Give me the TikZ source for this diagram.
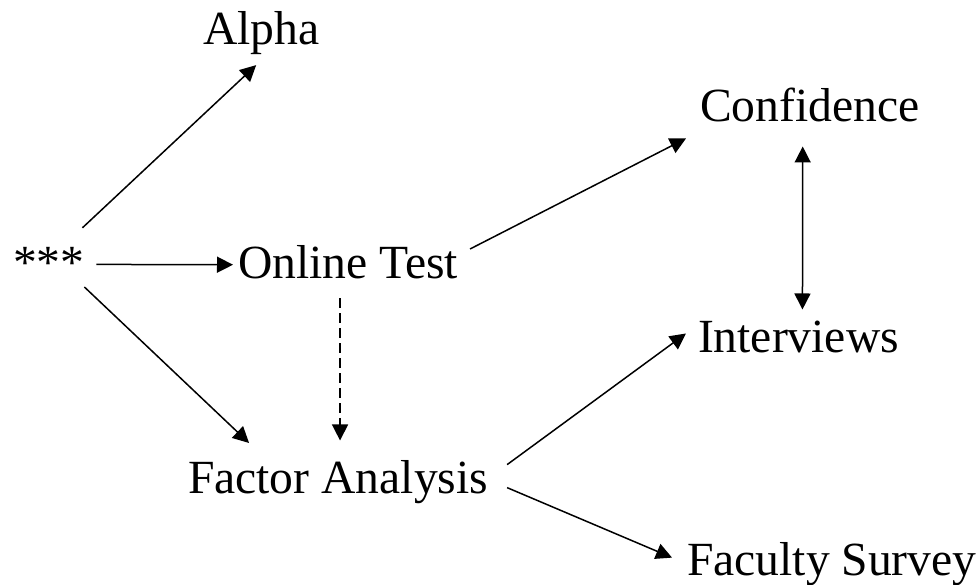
\documentclass[tikz,border=0pt]{standalone}
\usepackage{fontspec}
\setmainfont{Liberation Serif}
\usetikzlibrary{arrows.meta,calc}

\tikzset{
  box/.style={inner sep=0pt, outer sep=0pt, anchor=base west,
    font=\fontsize{23.8}{28}\selectfont},
  arr/.style={-{Triangle[length=8pt,width=8pt]}, line width=0.75pt},
  dasharr/.style={arr, dash pattern=on 5pt off 2.5pt},
  dblarr/.style={{Triangle[length=8pt,width=8pt]}-{Triangle[length=8pt,width=8pt]},
    line width=0.75pt}
}

\begin{document}
\begin{tikzpicture}[x=0.5pt,y=-0.5pt]
  \useasboundingbox (0,0) rectangle (979,584);
  % the words
  \node[box] (star) at (13,278) {***};
  \node[box] (alpha) at (203,44) {Alpha};
  \node[box] (online) at (238,278) {Online Test};
  \node[box] (conf) at (700,121) {Confidence};
  \node[box] (interv) at (698,352) {Interviews};
  \node[box] (factor) at (188,493) {Factor Analysis};
  \node[box] (faculty) at (687,575) {Faculty Survey};
  % the arrows
  \draw[arr] ($(star.north east)+(-2,-19)$) -- ($(alpha.south)+(-5,11)$);
  \draw[arr] ($(star.east)+(12,2)$) -- ($(online.west)+(-5,3)$);
  \draw[arr] ($(star.south east)+(0,9)$) -- ($(factor.north)+(-89,-17)$);
  \draw[dasharr] ($(online.south)+(-8,20)$) -- ++(0,142);
  \draw[arr] ($(online.north east)+(12,4)$) -- ($(conf.south west)+(-14,17)$);
  \draw[dblarr] ($(conf.south)+(-7,25)$) -- ($(interv.north)+(4,-11)$);
  \draw[arr] ($(factor.east)+(19,-17)$) -- ($(interv.west)+(-12,-3)$);
  \draw[arr] ($(factor.east)+(19,6)$) -- ($(faculty.west)+(-15,-6)$);
\end{tikzpicture}
\end{document}
